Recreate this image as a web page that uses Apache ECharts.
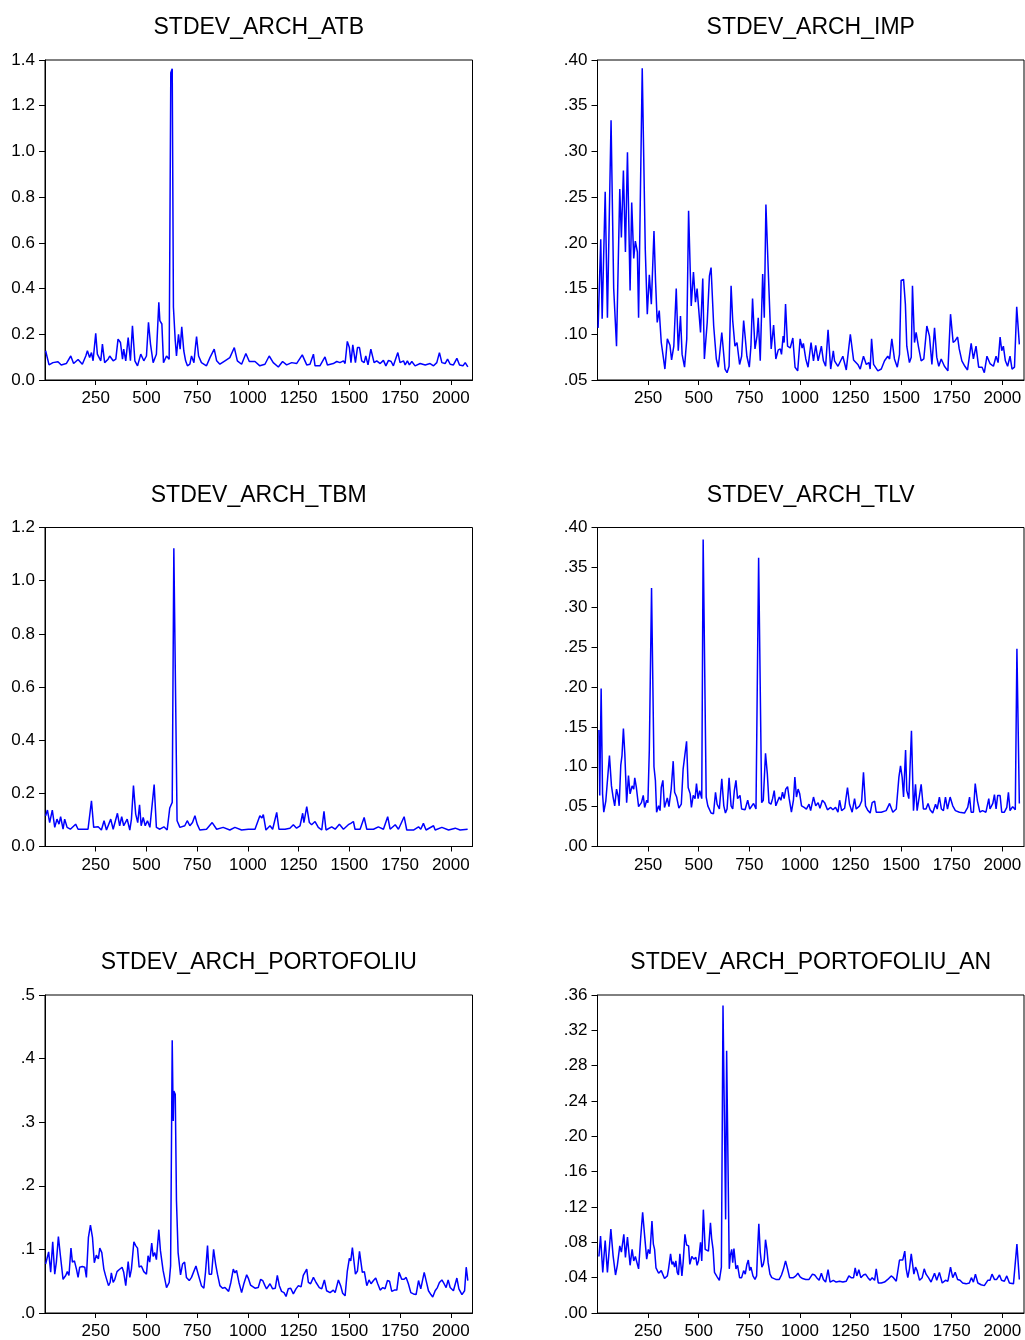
<!DOCTYPE html>
<html>
<head>
<meta charset="utf-8">
<title>STDEV_ARCH</title>
<script src="https://cdn.jsdelivr.net/npm/echarts@6/dist/echarts.min.js"></script>
<style>
  html, body { margin: 0; padding: 0; background: #fff; }
  #chart { width: 1025px; height: 1340px; }
</style>
</head>
<body>
<div id="chart"></div>
<script>
const atb = [[3,0.128],[12,0.12],[20,0.066],[39,0.076],[64,0.08],[80,0.066],[105,0.072],[127,0.105],[141,0.072],[163,0.09],[184,0.069],[201,0.105],[209,0.128],[220,0.098],[229,0.12],[237,0.084],[250,0.204],[258,0.113],[266,0.12],[275,0.084],[283,0.157],[294,0.076],[311,0.091],[319,0.105],[336,0.084],[349,0.091],[360,0.179],[372,0.164],[382,0.091],[388,0.135],[398,0.084],[410,0.186],[421,0.084],[431,0.237],[443,0.084],[456,0.062],[472,0.113],[487,0.084],[500,0.105],[510,0.252],[520,0.157],[533,0.076],[549,0.113],[561,0.34],[566,0.26],[576,0.245],[584,0.076],[599,0.105],[612,0.091],[620,1.344],[627,1.362],[633,0.318],[642,0.172],[648,0.105],[658,0.2],[666,0.135],[674,0.233],[684,0.128],[693,0.084],[702,0.062],[714,0.069],[722,0.105],[734,0.076],[742,0.15],[747,0.19],[757,0.105],[771,0.076],[796,0.062],[813,0.098],[834,0.135],[846,0.084],[862,0.069],[887,0.084],[911,0.098],[933,0.142],[948,0.084],[969,0.069],[990,0.116],[1007,0.081],[1035,0.081],[1059,0.062],[1084,0.069],[1105,0.105],[1125,0.076],[1150,0.057],[1171,0.081],[1191,0.066],[1216,0.076],[1240,0.072],[1268,0.11],[1290,0.066],[1306,0.069],[1323,0.113],[1331,0.062],[1355,0.062],[1380,0.101],[1392,0.066],[1421,0.072],[1438,0.081],[1454,0.076],[1471,0.084],[1479,0.072],[1490,0.169],[1500,0.142],[1508,0.076],[1517,0.154],[1523,0.157],[1530,0.076],[1540,0.142],[1550,0.142],[1561,0.084],[1573,0.076],[1581,0.105],[1592,0.066],[1606,0.135],[1615,0.139],[1622,0.076],[1635,0.084],[1652,0.072],[1668,0.086],[1680,0.062],[1693,0.086],[1706,0.081],[1717,0.062],[1739,0.12],[1750,0.076],[1767,0.084],[1775,0.066],[1786,0.084],[1796,0.066],[1808,0.081],[1824,0.062],[1849,0.072],[1874,0.066],[1898,0.072],[1915,0.062],[1931,0.076],[1944,0.12],[1956,0.076],[1972,0.072],[1984,0.091],[1997,0.069],[2013,0.066],[2030,0.095],[2043,0.066],[2060,0.062],[2071,0.076],[2084,0.057]]

const imp = [[3,0.107],[16,0.204],[23,0.117],[38,0.256],[49,0.118],[67,0.334],[80,0.15],[94,0.087],[110,0.259],[118,0.206],[128,0.279],[138,0.19],[148,0.299],[161,0.148],[169,0.244],[179,0.183],[187,0.202],[197,0.19],[203,0.118],[221,0.391],[236,0.193],[246,0.122],[256,0.165],[266,0.133],[279,0.213],[287,0.157],[295,0.113],[305,0.126],[315,0.091],[325,0.075],[333,0.062],[345,0.095],[358,0.088],[366,0.072],[377,0.087],[389,0.15],[399,0.082],[410,0.12],[418,0.078],[430,0.064],[441,0.095],[450,0.235],[463,0.131],[474,0.168],[484,0.135],[492,0.15],[509,0.102],[520,0.161],[528,0.073],[542,0.113],[553,0.164],[561,0.173],[574,0.109],[587,0.073],[597,0.064],[614,0.102],[630,0.062],[640,0.058],[650,0.065],[660,0.153],[668,0.115],[679,0.087],[689,0.091],[702,0.067],[712,0.076],[722,0.115],[730,0.096],[738,0.076],[750,0.064],[758,0.087],[766,0.139],[778,0.084],[788,0.098],[794,0.118],[804,0.071],[816,0.166],[824,0.118],[832,0.242],[845,0.161],[858,0.084],[870,0.11],[881,0.073],[893,0.083],[903,0.084],[909,0.078],[917,0.098],[922,0.091],[929,0.133],[939,0.087],[952,0.085],[965,0.096],[976,0.064],[989,0.06],[1001,0.095],[1011,0.085],[1017,0.09],[1029,0.073],[1040,0.064],[1055,0.091],[1067,0.071],[1078,0.088],[1090,0.071],[1106,0.087],[1116,0.071],[1127,0.065],[1139,0.105],[1152,0.062],[1165,0.082],[1171,0.071],[1188,0.065],[1212,0.076],[1229,0.061],[1249,0.1],[1265,0.072],[1286,0.067],[1298,0.062],[1314,0.076],[1328,0.067],[1341,0.069],[1347,0.062],[1354,0.095],[1364,0.067],[1385,0.06],[1402,0.062],[1418,0.071],[1434,0.076],[1443,0.073],[1454,0.095],[1467,0.073],[1481,0.064],[1492,0.078],[1500,0.159],[1512,0.16],[1521,0.133],[1528,0.087],[1541,0.069],[1550,0.075],[1556,0.153],[1566,0.091],[1574,0.102],[1586,0.086],[1599,0.071],[1612,0.073],[1627,0.109],[1640,0.098],[1652,0.067],[1665,0.107],[1676,0.075],[1686,0.065],[1698,0.073],[1714,0.065],[1731,0.06],[1744,0.122],[1757,0.091],[1767,0.093],[1779,0.097],[1787,0.084],[1800,0.071],[1815,0.065],[1828,0.061],[1846,0.09],[1857,0.073],[1870,0.087],[1883,0.064],[1900,0.064],[1911,0.058],[1924,0.076],[1939,0.068],[1956,0.065],[1969,0.076],[1979,0.069],[1989,0.097],[1997,0.082],[2005,0.087],[2015,0.071],[2026,0.065],[2038,0.076],[2048,0.062],[2060,0.064],[2071,0.13],[2084,0.089]]

const tbm = [[3,0.116],[12,0.137],[23,0.09],[36,0.137],[48,0.072],[59,0.103],[69,0.084],[77,0.112],[89,0.065],[97,0.103],[109,0.072],[125,0.065],[151,0.084],[163,0.065],[212,0.065],[229,0.172],[240,0.072],[262,0.074],[278,0.062],[291,0.097],[303,0.062],[324,0.103],[336,0.065],[357,0.125],[368,0.078],[378,0.112],[388,0.078],[405,0.103],[418,0.062],[426,0.103],[436,0.229],[447,0.122],[457,0.09],[466,0.157],[474,0.078],[484,0.109],[494,0.078],[505,0.097],[517,0.072],[525,0.072],[538,0.233],[549,0.072],[566,0.065],[586,0.074],[602,0.062],[615,0.145],[627,0.166],[635,1.122],[643,1.126],[651,0.097],[665,0.072],[689,0.078],[701,0.097],[714,0.078],[727,0.09],[739,0.116],[750,0.084],[763,0.062],[796,0.065],[824,0.09],[846,0.065],[878,0.072],[911,0.062],[936,0.072],[969,0.062],[1002,0.065],[1035,0.065],[1059,0.116],[1069,0.107],[1076,0.12],[1089,0.062],[1109,0.078],[1122,0.065],[1142,0.128],[1153,0.065],[1183,0.065],[1207,0.069],[1224,0.082],[1240,0.069],[1257,0.078],[1270,0.125],[1276,0.09],[1290,0.15],[1303,0.09],[1314,0.082],[1331,0.094],[1347,0.072],[1364,0.062],[1375,0.132],[1385,0.062],[1413,0.074],[1430,0.065],[1451,0.084],[1471,0.065],[1495,0.082],[1507,0.087],[1520,0.094],[1528,0.065],[1553,0.065],[1573,0.109],[1586,0.065],[1619,0.065],[1643,0.074],[1668,0.065],[1689,0.112],[1701,0.065],[1726,0.082],[1742,0.065],[1770,0.112],[1783,0.062],[1816,0.062],[1841,0.074],[1852,0.065],[1865,0.087],[1878,0.062],[1915,0.078],[1923,0.062],[1956,0.072],[1989,0.062],[2022,0.069],[2046,0.062],[2083,0.065]]

const tlv = [[7,0.146],[11,0.064],[18,0.198],[25,0.066],[31,0.043],[41,0.057],[49,0.058],[59,0.114],[69,0.076],[77,0.062],[85,0.051],[94,0.072],[102,0.063],[107,0.051],[115,0.102],[121,0.114],[128,0.148],[135,0.116],[144,0.055],[153,0.089],[161,0.066],[171,0.076],[179,0.072],[184,0.086],[192,0.074],[203,0.05],[217,0.055],[226,0.064],[233,0.049],[243,0.058],[249,0.055],[256,0.121],[261,0.123],[267,0.324],[272,0.326],[279,0.1],[286,0.083],[292,0.043],[302,0.051],[309,0.045],[315,0.074],[323,0.083],[331,0.049],[345,0.061],[353,0.05],[364,0.072],[374,0.107],[381,0.068],[391,0.062],[402,0.048],[414,0.053],[423,0.097],[440,0.132],[448,0.074],[458,0.066],[464,0.049],[473,0.064],[482,0.06],[489,0.079],[497,0.06],[505,0.07],[515,0.06],[522,0.385],[528,0.385],[537,0.062],[545,0.051],[561,0.042],[573,0.041],[583,0.068],[591,0.053],[602,0.047],[614,0.085],[624,0.051],[632,0.042],[640,0.047],[650,0.086],[660,0.051],[668,0.047],[676,0.07],[684,0.083],[692,0.06],[704,0.064],[712,0.047],[729,0.046],[742,0.058],[752,0.047],[761,0.049],[771,0.054],[783,0.047],[791,0.049],[796,0.362],[802,0.362],[811,0.055],[819,0.058],[830,0.117],[839,0.091],[847,0.055],[857,0.053],[865,0.06],[873,0.07],[881,0.051],[889,0.053],[898,0.062],[906,0.058],[914,0.068],[922,0.06],[930,0.072],[939,0.075],[947,0.06],[958,0.043],[968,0.058],[975,0.087],[983,0.062],[991,0.072],[999,0.066],[1008,0.051],[1021,0.049],[1032,0.047],[1045,0.053],[1053,0.045],[1067,0.062],[1078,0.051],[1090,0.055],[1099,0.048],[1111,0.058],[1122,0.055],[1136,0.046],[1152,0.049],[1163,0.046],[1176,0.049],[1188,0.043],[1196,0.058],[1206,0.045],[1221,0.048],[1235,0.074],[1245,0.053],[1258,0.043],[1270,0.06],[1278,0.047],[1295,0.051],[1305,0.057],[1314,0.093],[1324,0.051],[1336,0.045],[1347,0.042],[1357,0.055],[1369,0.057],[1377,0.043],[1402,0.043],[1426,0.045],[1443,0.054],[1459,0.043],[1476,0.047],[1489,0.087],[1497,0.101],[1505,0.087],[1512,0.062],[1522,0.121],[1528,0.07],[1538,0.06],[1551,0.145],[1561,0.045],[1571,0.078],[1579,0.045],[1587,0.043],[1599,0.078],[1610,0.047],[1623,0.047],[1633,0.054],[1643,0.046],[1656,0.042],[1670,0.053],[1678,0.047],[1689,0.062],[1699,0.047],[1709,0.045],[1719,0.062],[1729,0.047],[1742,0.062],[1755,0.051],[1768,0.045],[1788,0.043],[1813,0.042],[1829,0.049],[1838,0.062],[1846,0.043],[1857,0.043],[1866,0.079],[1877,0.057],[1889,0.043],[1902,0.045],[1919,0.043],[1933,0.06],[1939,0.047],[1953,0.054],[1961,0.065],[1969,0.047],[1977,0.064],[1989,0.064],[1997,0.043],[2010,0.043],[2022,0.049],[2030,0.068],[2038,0.045],[2051,0.05],[2064,0.046],[2072,0.248],[2077,0.246],[2084,0.054]]

const portofoliu = [[3,0.077],[10,0.074],[18,0.096],[28,0.064],[38,0.112],[48,0.061],[56,0.08],[66,0.12],[76,0.09],[89,0.053],[102,0.059],[110,0.065],[118,0.059],[128,0.102],[135,0.08],[145,0.082],[155,0.069],[163,0.056],[171,0.072],[184,0.073],[196,0.072],[204,0.056],[214,0.119],[224,0.138],[234,0.119],[243,0.079],[253,0.091],[263,0.085],[270,0.102],[280,0.095],[290,0.069],[299,0.058],[313,0.043],[321,0.048],[327,0.063],[336,0.048],[344,0.053],[355,0.065],[365,0.068],[372,0.067],[380,0.072],[388,0.064],[398,0.043],[410,0.081],[418,0.056],[426,0.069],[438,0.112],[447,0.106],[456,0.102],[464,0.072],[475,0.074],[487,0.065],[500,0.061],[508,0.09],[516,0.08],[526,0.11],[533,0.089],[541,0.095],[549,0.084],[561,0.131],[569,0.098],[582,0.067],[599,0.04],[612,0.048],[619,0.074],[627,0.429],[632,0.302],[635,0.349],[642,0.344],[648,0.176],[656,0.095],[668,0.06],[678,0.077],[688,0.08],[697,0.056],[711,0.051],[722,0.056],[730,0.053],[744,0.074],[755,0.061],[771,0.043],[783,0.039],[791,0.064],[801,0.106],[809,0.061],[821,0.061],[831,0.1],[841,0.077],[850,0.061],[862,0.043],[875,0.039],[887,0.04],[895,0.039],[905,0.034],[916,0.048],[928,0.069],[936,0.063],[944,0.067],[956,0.048],[969,0.032],[980,0.046],[994,0.06],[1003,0.054],[1013,0.044],[1035,0.039],[1051,0.04],[1063,0.053],[1073,0.051],[1084,0.043],[1092,0.038],[1109,0.046],[1122,0.038],[1135,0.039],[1145,0.059],[1155,0.043],[1166,0.034],[1178,0.032],[1188,0.026],[1199,0.038],[1211,0.039],[1224,0.03],[1237,0.038],[1249,0.043],[1262,0.041],[1273,0.059],[1281,0.062],[1290,0.069],[1298,0.048],[1309,0.046],[1323,0.056],[1336,0.048],[1352,0.04],[1364,0.038],[1377,0.052],[1388,0.035],[1405,0.032],[1421,0.036],[1430,0.032],[1446,0.052],[1457,0.043],[1467,0.031],[1479,0.027],[1490,0.066],[1500,0.086],[1507,0.082],[1515,0.103],[1523,0.104],[1530,0.061],[1540,0.066],[1550,0.097],[1556,0.098],[1564,0.064],[1574,0.065],[1586,0.043],[1597,0.052],[1607,0.046],[1619,0.051],[1630,0.055],[1640,0.046],[1652,0.036],[1665,0.04],[1676,0.038],[1688,0.051],[1698,0.05],[1709,0.034],[1722,0.036],[1734,0.036],[1745,0.064],[1758,0.053],[1770,0.053],[1780,0.056],[1791,0.046],[1803,0.032],[1816,0.03],[1829,0.029],[1841,0.051],[1852,0.038],[1869,0.064],[1879,0.05],[1890,0.035],[1902,0.029],[1911,0.025],[1923,0.035],[1934,0.04],[1944,0.048],[1956,0.052],[1967,0.046],[1977,0.04],[1987,0.052],[1997,0.04],[2013,0.035],[2030,0.055],[2040,0.038],[2055,0.029],[2068,0.035],[2076,0.072],[2084,0.051]]

const portofoliuAn = [[7,0.064],[15,0.087],[26,0.046],[38,0.082],[49,0.046],[66,0.095],[77,0.065],[89,0.043],[98,0.054],[110,0.076],[118,0.069],[130,0.089],[138,0.063],[148,0.086],[161,0.054],[171,0.072],[179,0.059],[187,0.064],[195,0.063],[203,0.05],[213,0.084],[223,0.114],[233,0.087],[243,0.061],[251,0.072],[259,0.067],[269,0.104],[276,0.078],[282,0.072],[289,0.051],[302,0.045],[315,0.048],[323,0.05],[331,0.039],[345,0.042],[351,0.05],[361,0.067],[368,0.055],[374,0.058],[381,0.052],[387,0.059],[394,0.046],[400,0.043],[407,0.067],[417,0.042],[423,0.057],[432,0.089],[440,0.077],[450,0.076],[456,0.055],[466,0.064],[476,0.061],[486,0.063],[492,0.054],[499,0.059],[509,0.08],[515,0.059],[523,0.117],[532,0.072],[540,0.072],[548,0.07],[558,0.102],[564,0.084],[571,0.072],[578,0.046],[591,0.041],[602,0.037],[612,0.052],[620,0.348],[628,0.35],[633,0.106],[638,0.297],[645,0.295],[651,0.05],[656,0.065],[663,0.072],[668,0.057],[674,0.073],[684,0.05],[692,0.054],[702,0.04],[712,0.04],[722,0.048],[730,0.044],[738,0.055],[745,0.06],[752,0.048],[758,0.052],[768,0.042],[778,0.038],[786,0.042],[791,0.072],[797,0.101],[804,0.069],[812,0.052],[819,0.055],[824,0.061],[830,0.083],[837,0.072],[843,0.057],[852,0.044],[861,0.04],[870,0.042],[881,0.038],[898,0.038],[909,0.043],[919,0.05],[929,0.059],[939,0.05],[949,0.04],[958,0.038],[968,0.04],[980,0.042],[990,0.045],[1001,0.041],[1013,0.039],[1029,0.038],[1045,0.038],[1062,0.044],[1073,0.043],[1083,0.04],[1095,0.037],[1106,0.045],[1116,0.038],[1127,0.035],[1139,0.049],[1149,0.035],[1165,0.037],[1179,0.035],[1196,0.036],[1212,0.035],[1229,0.036],[1242,0.042],[1253,0.04],[1265,0.04],[1273,0.051],[1281,0.042],[1291,0.049],[1301,0.04],[1314,0.043],[1324,0.044],[1336,0.04],[1347,0.037],[1357,0.04],[1369,0.037],[1377,0.05],[1387,0.034],[1402,0.034],[1418,0.035],[1434,0.038],[1451,0.042],[1462,0.04],[1476,0.036],[1485,0.037],[1492,0.06],[1500,0.058],[1508,0.06],[1518,0.07],[1525,0.05],[1533,0.04],[1541,0.05],[1550,0.067],[1555,0.069],[1563,0.044],[1571,0.052],[1579,0.048],[1591,0.037],[1604,0.04],[1614,0.05],[1623,0.044],[1635,0.04],[1648,0.035],[1665,0.045],[1676,0.037],[1689,0.046],[1703,0.034],[1719,0.037],[1731,0.036],[1744,0.052],[1755,0.04],[1767,0.046],[1779,0.038],[1791,0.037],[1804,0.034],[1821,0.033],[1837,0.034],[1847,0.04],[1857,0.035],[1867,0.044],[1879,0.034],[1895,0.032],[1911,0.031],[1928,0.037],[1939,0.037],[1949,0.044],[1961,0.038],[1972,0.038],[1986,0.043],[1996,0.037],[2010,0.036],[2022,0.042],[2035,0.034],[2055,0.033],[2064,0.033],[2072,0.078],[2084,0.038]]

const titles = ['STDEV_ARCH_ATB', 'STDEV_ARCH_IMP', 'STDEV_ARCH_TBM', 'STDEV_ARCH_TLV', 'STDEV_ARCH_PORTOFOLIU', 'STDEV_ARCH_PORTOFOLIU_AN']
const seriesData = [atb, imp, tbm, tlv, portofoliu, portofoliuAn]
const xTicks = [250, 500, 750, 1000, 1250, 1500, 1750, 2000]
// y axis ranges per panel: [min, max, step, decimals]
const yRanges = [[0, 1.4, 0.2, 1], [0.05, 0.40, 0.05, 2], [0, 1.2, 0.2, 1], [0, 0.40, 0.05, 2], [0, 0.5, 0.1, 1], [0, 0.36, 0.04, 2]]

const FONT = '"Liberation Sans", Arial, sans-serif'
const colLeft = [45, 597.5]
const colWidth = [427.5, 426.5]
const rowTop = [60, 527.5, 995]
const rowHeight = [320, 319, 320]
const titleY = [27.5, 495.5, 962.5]

// EViews style: drop the leading zero for values below 1 (".40"), keep "0.0" style on the big panels
const makeFmt = (dec, keepZero) => v => {
  const s = Math.abs(v).toFixed(dec)
  return keepZero ? s : s.replace(/^0/, '')
}

const grids = [], xAxes = [], yAxes = [], series = [], graphics = []
titles.forEach((t, i) => {
  const c = i % 2, r = Math.floor(i / 2)
  const [ymin, ymax, ystep, dec] = yRanges[i]
  grids.push({
    left: colLeft[c], top: rowTop[r], width: colWidth[c], height: rowHeight[r],
    show: true, borderColor: '#000', borderWidth: 1, backgroundColor: 'transparent'
  })
  xAxes.push({
    type: 'value', gridIndex: i, min: 0, max: 2107,
    axisLine: { show: true, onZero: false, lineStyle: { color: '#000', width: 1 } },
    axisTick: { show: true, length: 5, customValues: xTicks, lineStyle: { color: '#000' } },
    axisLabel: { customValues: xTicks, color: '#000', fontSize: 17, fontFamily: FONT, margin: 10,
      formatter: v => String(v) },  // no thousands separator
    splitLine: { show: false }
  })
  yAxes.push({
    type: 'value', gridIndex: i, min: ymin, max: ymax, interval: ystep,
    axisLine: { show: true, onZero: false, lineStyle: { color: '#000', width: 1 } },
    axisTick: { show: true, length: 6, lineStyle: { color: '#000' } },
    axisLabel: { color: '#000', fontSize: 17, fontFamily: FONT, margin: 10,
      formatter: makeFmt(dec, ymax > 1) },
    splitLine: { show: false }
  })
  series.push({
    type: 'line', xAxisIndex: i, yAxisIndex: i, data: seriesData[i],
    symbol: 'none', smooth: false, silent: true,
    lineStyle: { color: '#0000ff', width: 1.5 }
  })
  graphics.push({
    type: 'text', x: colLeft[c] + colWidth[c] / 2, y: titleY[r],
    style: { text: t, fill: '#000', font: '23px ' + FONT, align: 'center', verticalAlign: 'middle' }
  })
})

const chart = echarts.init(document.getElementById('chart'), null, { renderer: 'canvas' })
chart.setOption({
  animation: false,
  backgroundColor: '#fff',
  grid: grids,
  xAxis: xAxes,
  yAxis: yAxes,
  series: series,
  graphic: graphics
})
</script>
</body>
</html>
